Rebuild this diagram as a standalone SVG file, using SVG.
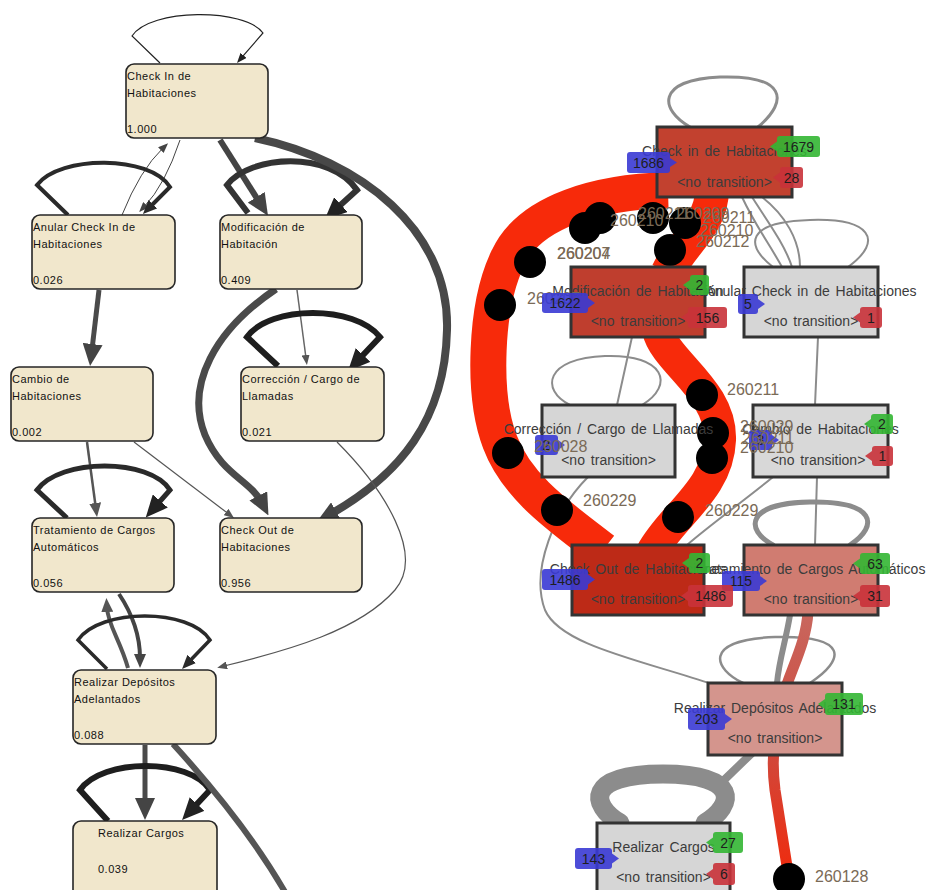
<svg xmlns="http://www.w3.org/2000/svg" width="930" height="890" viewBox="0 0 930 890">
<defs>
<style>
.ln{fill:#f1e7cc;stroke:#262626;stroke-width:1.6}
.lt{font-family:"Liberation Sans",Arial,sans-serif;font-size:11px;letter-spacing:0.5px;fill:#111}
.e{fill:none}
.rn{stroke:#333;stroke-width:3}
.rt{font-family:"Liberation Sans",Arial,sans-serif;font-size:14px;word-spacing:2px;fill:#3c3c3c;text-anchor:middle}
.ge{fill:none;stroke:#8c8c8c;stroke-linecap:round}
.band{fill:none;stroke:#f72a0a}
.lab{font-family:"Liberation Sans",Arial,sans-serif;font-size:16px;fill:#7a6a56}
.bt{font-family:"Liberation Sans",Arial,sans-serif;font-size:14px;fill:#1e1e1e;text-anchor:middle}
.bl rect,.bl path{fill:#3a3ad4;fill-opacity:.9}
.bg rect,.bg path{fill:#33b633;fill-opacity:.9}
.br rect,.br path{fill:#c9323a;fill-opacity:.9}
</style>
<marker id="aL-d" markerUnits="userSpaceOnUse" markerWidth="22" markerHeight="20" refX="8" refY="10" orient="auto"><path d="M0,0 L22,10 L0,20 z" fill="#444"/></marker>
<marker id="aL-k" markerUnits="userSpaceOnUse" markerWidth="22" markerHeight="20" refX="8" refY="10" orient="auto"><path d="M0,0 L22,10 L0,20 z" fill="#222"/></marker>
<marker id="aM-d" markerUnits="userSpaceOnUse" markerWidth="14" markerHeight="12" refX="4" refY="6" orient="auto"><path d="M0,0 L14,6 L0,12 z" fill="#444"/></marker>
<marker id="aM-k" markerUnits="userSpaceOnUse" markerWidth="14" markerHeight="12" refX="4" refY="6" orient="auto"><path d="M0,0 L14,6 L0,12 z" fill="#2a2a2a"/></marker>
<marker id="aM-m" markerUnits="userSpaceOnUse" markerWidth="14" markerHeight="12" refX="4" refY="6" orient="auto"><path d="M0,0 L14,6 L0,12 z" fill="#555"/></marker>
<marker id="aS-m" markerUnits="userSpaceOnUse" markerWidth="10" markerHeight="8" refX="3" refY="4" orient="auto"><path d="M0,0 L10,4 L0,8 z" fill="#555"/></marker>
<marker id="aS-k" markerUnits="userSpaceOnUse" markerWidth="10" markerHeight="8" refX="3" refY="4" orient="auto"><path d="M0,0 L10,4 L0,8 z" fill="#222"/></marker>
<marker id="aS-d" markerUnits="userSpaceOnUse" markerWidth="10" markerHeight="8" refX="3" refY="4" orient="auto"><path d="M0,0 L10,4 L0,8 z" fill="#444"/></marker>
<linearGradient id="salmon" gradientUnits="userSpaceOnUse" x1="0" y1="612" x2="0" y2="879">
<stop offset="0" stop-color="#c8675e"/><stop offset="0.5" stop-color="#cf4a3e"/><stop offset="1" stop-color="#f02a0c"/>
</linearGradient>
</defs>
<rect width="930" height="890" fill="#fff"/>

<g id="left-connectors">
<path class="e" d="M160,63 L132,36 C150,8 245,8 263,33 L241.6,57.7" stroke="#222" stroke-width="1.2" marker-end="url(#aS-k)"/>
<path class="e" d="M180,140 Q165,185 144,207" stroke="#444" stroke-width="1" marker-end="url(#aS-d)"/>
<path class="e" d="M122,215 Q140,170 163,148" stroke="#444" stroke-width="1" marker-end="url(#aS-d)"/>
<path class="e" d="M68,215 L37,185 C60,155 150,155 170,187 L150,207" stroke="#2a2a2a" stroke-width="4" marker-end="url(#aM-k)"/>
<path class="e" d="M220,140 L260.5,204" stroke="#444" stroke-width="6" marker-end="url(#aL-d)"/>
<path class="e" d="M248,213 L227,185 C250,155 330,150 357,190 L335,210" stroke="#333" stroke-width="6" marker-end="url(#aL-k)"/>
<path class="e" d="M255,138 C360,160 450,230 447,330 C445,420 400,475 329,515" stroke="#484848" stroke-width="8" marker-end="url(#aL-d)"/>
<path class="e" d="M276,289 C215,330 185,385 205,435 C222,475 250,480 262,503" stroke="#4a4a4a" stroke-width="7" marker-end="url(#aL-d)"/>
<path class="e" d="M297,290 L306,358" stroke="#666" stroke-width="1.5" marker-end="url(#aS-m)"/>
<path class="e" d="M278,366 L247,337 C270,305 355,305 380,337 L357.6,360.8" stroke="#1e1e1e" stroke-width="6" marker-end="url(#aL-k)"/>
<path class="e" d="M99,290 L91.7,352" stroke="#4a4a4a" stroke-width="5" marker-end="url(#aL-d)"/>
<path class="e" d="M87,442 L95.7,507" stroke="#555" stroke-width="2.5" marker-end="url(#aM-m)"/>
<path class="e" d="M134,442 L228.4,513.8" stroke="#555" stroke-width="1.2" marker-end="url(#aS-m)"/>
<path class="e" d="M67,518 L37,490 C60,458 150,458 170,490 L155,507" stroke="#2a2a2a" stroke-width="5" marker-end="url(#aL-k)"/>
<path class="e" d="M337,442 C385,490 425,555 395,590 C360,630 290,650 224,666" stroke="#555" stroke-width="1.2" marker-end="url(#aS-m)"/>
<path class="e" d="M128,668 C120,640 108,625 107,608" stroke="#555" stroke-width="4" marker-end="url(#aM-m)"/>
<path class="e" d="M119,594 C133,615 140,635 140,658" stroke="#444" stroke-width="4" marker-end="url(#aM-d)"/>
<path class="e" d="M107,669 L78,640 C100,608 190,608 210,640 L189,661.8" stroke="#2a2a2a" stroke-width="3.5" marker-end="url(#aM-k)"/>
<path class="e" d="M145,745 L145,806" stroke="#4a4a4a" stroke-width="5" marker-end="url(#aL-d)"/>
<path class="e" d="M108,821 L80,790 C102,758 190,758 210,790 L191.6,809.8" stroke="#1e1e1e" stroke-width="6" marker-end="url(#aL-k)"/>
<path class="e" d="M173,744 C215,790 255,840 285,892" stroke="#555" stroke-width="6"/>
</g>

<g id="l-checkin"><rect class="ln" x="126" y="64" width="142" height="74" rx="8"/><text class="lt" x="127" y="80">Check In de</text><text class="lt" x="127" y="97">Habitaciones</text><text class="lt" x="127" y="133">1.000</text></g>
<g id="l-anular"><rect class="ln" x="32" y="215" width="143" height="74" rx="8"/><text class="lt" x="33" y="231">Anular Check In de</text><text class="lt" x="33" y="248">Habitaciones</text><text class="lt" x="33" y="284">0.026</text></g>
<g id="l-modif"><rect class="ln" x="220" y="215" width="142" height="74" rx="8"/><text class="lt" x="221" y="231">Modificación de</text><text class="lt" x="221" y="248">Habitación</text><text class="lt" x="221" y="284">0.409</text></g>
<g id="l-cambio"><rect class="ln" x="11" y="367" width="142" height="74" rx="8"/><text class="lt" x="12" y="383">Cambio de</text><text class="lt" x="12" y="400">Habitaciones</text><text class="lt" x="12" y="436">0.002</text></g>
<g id="l-correc"><rect class="ln" x="241" y="367" width="143" height="74" rx="8"/><text class="lt" x="242" y="383">Corrección / Cargo de</text><text class="lt" x="242" y="400">Llamadas</text><text class="lt" x="242" y="436">0.021</text></g>
<g id="l-trat"><rect class="ln" x="32" y="518" width="142" height="74" rx="8"/><text class="lt" x="33" y="534">Tratamiento de Cargos</text><text class="lt" x="33" y="551">Automáticos</text><text class="lt" x="33" y="587">0.056</text></g>
<g id="l-checkout"><rect class="ln" x="220" y="518" width="142" height="74" rx="8"/><text class="lt" x="221" y="534">Check Out de</text><text class="lt" x="221" y="551">Habitaciones</text><text class="lt" x="221" y="587">0.956</text></g>
<g id="l-deposit"><rect class="ln" x="73" y="670" width="143" height="74" rx="8"/><text class="lt" x="74" y="686">Realizar Depósitos</text><text class="lt" x="74" y="703">Adelantados</text><text class="lt" x="74" y="739">0.088</text></g>
<g id="l-cargos"><rect class="ln" x="73" y="821" width="144" height="84" rx="8"/><text class="lt" x="98" y="837">Realizar Cargos</text><text class="lt" x="98" y="873">0.039</text></g>

<g id="right-connectors">
<path class="ge" stroke-width="3" d="M690,127 C660,110 655,80 720,77 C785,75 790,100 758,127"/>
<path class="ge" stroke-width="2" d="M742,197 C755,225 770,245 782,267"/>
<path class="ge" stroke-width="2" d="M752,197 C768,222 785,245 792,267"/>
<path class="ge" stroke-width="2" d="M762,197 C785,215 800,240 800,267"/>
<path class="ge" stroke-width="2" d="M773,267 C745,245 745,222 810,220 C870,218 885,240 848,267"/>
<path class="ge" stroke-width="2" d="M818,337 L815,405"/>
<path class="ge" stroke-width="2" d="M632,337 L617,405"/>
<path class="ge" stroke-width="2" d="M570,405 C540,390 545,358 605,356 C665,354 675,385 642,405"/>
<path class="ge" stroke-width="2" d="M817,477 L815,545"/>
<path class="ge" stroke-width="2" d="M773,477 C745,500 710,525 687,545"/>
<path class="ge" stroke-width="2" d="M588,477 C555,510 530,570 545,610 C560,645 640,660 712,684"/>
<path class="ge" stroke-width="5" d="M773,545 C745,530 745,503 810,502 C875,501 880,525 850,545"/>
<path class="ge" stroke-width="6" d="M790,615 C786,640 779,660 777,683"/>
<path class="ge" stroke-width="2.5" d="M743,683 C715,670 700,640 775,637 C850,635 845,660 810,683"/>
<path class="ge" stroke-width="8" d="M752,753 L722,782"/>
<path class="ge" stroke-width="19" d="M620,823 C590,805 585,774 663,774 C740,774 735,805 705,823"/>
<path fill="none" stroke="url(#salmon)" stroke-width="11" d="M808,612 C806,645 790,670 782,700 C774,730 771,760 775,790 L789,879"/>
<path class="band" stroke-width="36" d="M668,190 C600,192 530,210 508,258 C485,305 482,395 500,442 C518,490 565,520 603,550"/>
<path class="band" stroke-width="34" d="M712,190 C712,225 680,245 668,272"/>
<path class="band" stroke-width="32" d="M658,330 C665,362 722,390 720,440 C718,490 672,515 652,552"/>
<g fill="#000">
<circle cx="585" cy="228" r="16"/><circle cx="600" cy="218" r="16"/><circle cx="653" cy="218" r="16"/><circle cx="685" cy="223" r="16"/><circle cx="670" cy="250" r="16"/>
<circle cx="530" cy="262" r="16"/><circle cx="500" cy="305" r="16"/><circle cx="508" cy="453" r="16"/><circle cx="557" cy="510" r="16"/>
<circle cx="702" cy="395" r="16"/><circle cx="713" cy="433" r="16"/><circle cx="712" cy="458" r="16"/><circle cx="678" cy="517" r="16"/>
<circle cx="789" cy="879" r="16"/>
</g>
</g>

<g id="r-checkin"><rect class="rn" x="657" y="127" width="135" height="70" fill="#c2412f"/><text class="rt" x="724.5" y="156">Check in de Habitaciones</text><text class="rt" x="724.5" y="187">&lt;no transition&gt;</text></g>
<g id="r-modif"><rect class="rn" x="571" y="267" width="134" height="70" fill="#bf3e2e"/><text class="rt" x="638" y="296">Modificación de Habitación</text><text class="rt" x="638" y="326">&lt;no transition&gt;</text></g>
<g id="r-anular"><rect class="rn" x="744" y="267" width="134" height="70" fill="#d6d6d6" stroke="#555"/><text class="rt" x="811" y="296">Anular Check in de Habitaciones</text><text class="rt" x="811" y="326">&lt;no transition&gt;</text></g>
<g id="r-correc"><rect class="rn" x="542" y="405" width="133" height="72" fill="#d6d6d6" stroke="#555"/><text class="rt" x="608.5" y="434">Corrección / Cargo de Llamadas</text><text class="rt" x="608.5" y="465">&lt;no transition&gt;</text></g>
<g id="r-cambio"><rect class="rn" x="753" y="405" width="135" height="72" fill="#d8d8d8" stroke="#555"/><text class="rt" x="820.5" y="434">Cambio de Habitaciones</text><text class="rt" x="818" y="465">&lt;no transition&gt;</text></g>
<g id="r-checkout"><rect class="rn" x="572" y="545" width="132" height="70" fill="#bd2a17" stroke="#1a1a1a"/><text class="rt" x="638" y="574">Check Out de Habitaciones</text><text class="rt" x="638" y="604">&lt;no transition&gt;</text></g>
<g id="r-trat"><rect class="rn" x="744" y="545" width="134" height="70" fill="#d07c71"/><text class="rt" x="811" y="574">Tratamiento de Cargos Automáticos</text><text class="rt" x="811" y="604">&lt;no transition&gt;</text></g>
<g id="r-deposit"><rect class="rn" x="708" y="683" width="134" height="72" fill="#d4958d"/><text class="rt" x="775" y="713">Realizar Depósitos Adelantados</text><text class="rt" x="775" y="743">&lt;no transition&gt;</text></g>
<g id="r-cargos"><rect class="rn" x="597" y="823" width="133" height="80" fill="#d6d6d6" stroke="#555"/><text class="rt" x="663.5" y="852">Realizar Cargos</text><text class="rt" x="663.5" y="882">&lt;no transition&gt;</text></g>

<text class="lab" x="527" y="304">260207</text>

<g id="badges">
<g class="bl"><rect x="627" y="152" width="43" height="21" rx="3"/><path d="M670,158 L677,162.5 L670,167 z"/><text class="bt" x="648.5" y="167.5">1686</text></g>
<g class="bl"><rect x="542" y="293" width="46" height="20" rx="3"/><path d="M588,298 L595,303 L588,308 z"/><text class="bt" x="565" y="308">1622</text></g>
<g class="bl"><rect x="738" y="294" width="20" height="20" rx="3"/><path d="M758,299 L765,304 L758,309 z"/><text class="bt" x="748" y="309">5</text></g>
<g class="bl"><rect x="535" y="435" width="23" height="20" rx="3"/><path d="M558,440 L565,445 L558,450 z"/><text class="bt" x="546.5" y="450">2</text></g>
<g class="bl"><rect x="749" y="430" width="23" height="20" rx="3"/><path d="M772,435 L779,440 L772,445 z"/><text class="bt" x="760.5" y="445">3</text></g>
<g class="bl"><rect x="542" y="569" width="46" height="21" rx="3"/><path d="M588,574.5 L595,579.5 L588,584.5 z"/><text class="bt" x="565" y="585">1486</text></g>
<g class="bl"><rect x="722" y="571" width="38" height="20" rx="3"/><path d="M760,576 L767,581 L760,586 z"/><text class="bt" x="741" y="586">115</text></g>
<g class="bl"><rect x="688" y="708" width="37" height="22" rx="3"/><path d="M725,714 L732,719 L725,724 z"/><text class="bt" x="706.5" y="724">203</text></g>
<g class="bl"><rect x="575" y="848" width="37" height="21" rx="3"/><path d="M612,853.5 L619,858.5 L612,863.5 z"/><text class="bt" x="593.5" y="863.5">143</text></g>
<g class="bg"><rect x="777" y="136" width="43" height="21" rx="3"/><path d="M777,141.5 L770,146.5 L777,151.5 z"/><text class="bt" x="798.5" y="151.5">1679</text></g>
<g class="bg"><rect x="690" y="275" width="19" height="20" rx="3"/><path d="M690,280 L683,285 L690,290 z"/><text class="bt" x="699.5" y="290">2</text></g>
<g class="bg"><rect x="871" y="414" width="22" height="20" rx="3"/><path d="M871,419 L864,424 L871,429 z"/><text class="bt" x="882" y="429">2</text></g>
<g class="bg"><rect x="689" y="553" width="21" height="20" rx="3"/><path d="M689,558 L682,563 L689,568 z"/><text class="bt" x="699.5" y="568">2</text></g>
<g class="bg"><rect x="860" y="553" width="30" height="21" rx="3"/><path d="M860,558.5 L853,563.5 L860,568.5 z"/><text class="bt" x="875" y="568.5">63</text></g>
<g class="bg"><rect x="825" y="693" width="38" height="22" rx="3"/><path d="M825,699 L818,704 L825,709 z"/><text class="bt" x="844" y="709">131</text></g>
<g class="bg"><rect x="713" y="832" width="30" height="21" rx="3"/><path d="M713,837.5 L706,842.5 L713,847.5 z"/><text class="bt" x="728" y="848">27</text></g>
<g class="br"><rect x="780" y="167" width="23" height="21" rx="3"/><path d="M780,172.5 L773,177.5 L780,182.5 z"/><text class="bt" x="791.5" y="183">28</text></g>
<g class="br"><rect x="688" y="307" width="39" height="21" rx="3"/><path d="M688,312.5 L681,317.5 L688,322.5 z"/><text class="bt" x="707.5" y="323">156</text></g>
<g class="br"><rect x="860" y="307" width="22" height="21" rx="3"/><path d="M860,312.5 L853,317.5 L860,322.5 z"/><text class="bt" x="871" y="323">1</text></g>
<g class="br"><rect x="872" y="446" width="21" height="20" rx="3"/><path d="M872,451 L865,456 L872,461 z"/><text class="bt" x="882.5" y="461">1</text></g>
<g class="br"><rect x="688" y="585" width="45" height="22" rx="3"/><path d="M688,591 L681,596 L688,601 z"/><text class="bt" x="710.5" y="601">1486</text></g>
<g class="br"><rect x="860" y="585" width="30" height="22" rx="3"/><path d="M860,591 L853,596 L860,601 z"/><text class="bt" x="875" y="601">31</text></g>
<g class="br"><rect x="713" y="863" width="22" height="22" rx="3"/><path d="M713,869 L706,874 L713,879 z"/><text class="bt" x="724" y="879">6</text></g>
</g>

<g id="edge-labels">
<text class="lab" x="610" y="226">260210</text>
<text class="lab" x="638" y="219">260211</text>
<text class="lab" x="676" y="219">260209</text>
<text class="lab" x="703" y="223">260211</text>
<text class="lab" x="700" y="236">260210</text>
<text class="lab" x="696" y="247">260212</text>
<text class="lab" x="557" y="259">260204</text>
<text class="lab" x="557" y="259">260207</text>
<text class="lab" x="727" y="395">260211</text>
<text class="lab" x="740" y="432">260029</text>
<text class="lab" x="742" y="444">260211</text>
<text class="lab" x="740" y="453">260210</text>
<text class="lab" x="534" y="452">260028</text>
<text class="lab" x="583" y="506">260229</text>
<text class="lab" x="705" y="516">260229</text>
<text class="lab" x="815" y="882">260128</text>
</g>
</svg>
